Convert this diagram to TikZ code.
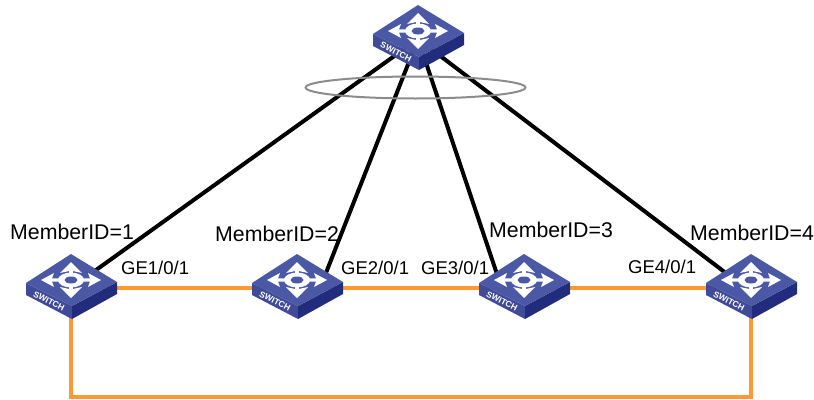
\documentclass[tikz,border=0pt]{standalone}
\usepackage{fontspec}
\setmainfont{Liberation Sans}
\definecolor{swtop}{HTML}{4A58A6}
\definecolor{swleft}{HTML}{3F4A98}
\definecolor{swright}{HTML}{222C7C}
\definecolor{ringorange}{HTML}{FF9933}
\tikzset{
  swnode/.style={inner sep=0pt,minimum width=91pt,minimum height=65pt},
  stacklink/.style={line width=4pt,black},
  ringlink/.style={line width=3.4pt,ringorange,line join=miter},
  memberlabel/.style={anchor=west,inner sep=0pt,font=\fontsize{21.3}{24}\selectfont},
  portlabel/.style={anchor=west,inner sep=0pt,font=\fontsize{18.5}{22}\selectfont},
  switchicon/.pic={
    %side faces
    \fill[swleft] (-45,-5) -- (1,18) -- (1,31) -- (-45,7) -- cycle;
    \fill[swright] (46,-6) -- (1,18) -- (1,31) -- (46,6) -- cycle;
    %top face
    \fill[swtop] (0,-34) -- (46,-6) -- (1,18) -- (-45,-5) -- cycle;
    %arrows of the icon
    \foreach \s in {1,-1}{
      \fill[white] (\s*10,-9.6) -- (\s*19,-9.6) -- (\s*17,-15) -- (\s*30,-8) -- (\s*17,-1) -- (\s*19,-6.4) -- (\s*10,-6.4) -- cycle;
      \fill[white] (-1.8,-8+\s*6) -- (-1.8,-8+\s*9) -- (-11,-8+\s*7) -- (0,-8+\s*18) -- (11,-8+\s*7) -- (1.8,-8+\s*9) -- (1.8,-8+\s*6) -- cycle;
    }
    %centre ring
    \fill[white] (0,-8) ellipse [x radius=13pt,y radius=7.5pt];
    \fill[swtop] (0,-8) ellipse [x radius=6.5pt,y radius=3.5pt];
    \node[rotate=-27,text=white,inner sep=0pt,font=\fontsize{8.5}{9}\selectfont\bfseries] at (-22,13) {SWITCH};
  }
}
\begin{document}
\begin{tikzpicture}[x=1pt,y=1pt,yscale=-1,xscale=1]
    \useasboundingbox (0,0) rectangle (814,399);
    %switches
    \node[swnode] (swroot) at (418,39) {};
    \node[swnode] (sw1) at (71,288) {};
    \node[swnode] (sw2) at (297,288) {};
    \node[swnode] (sw3) at (524,288) {};
    \node[swnode] (sw4) at (751,288) {};
    %free ends of the links
    \coordinate (up2) at (322,283);
    \coordinate (up3) at (500,283);
    \coordinate (up4) at (739,283);
    \coordinate (lowleft) at (71,397);
    \coordinate (lowright) at (751,397);
    %links to the upper switch
    \draw[stacklink] (swroot.center) -- (sw1.center);
    \draw[stacklink] (swroot.center) -- (up2);
    \draw[stacklink] (swroot.center) -- (up3);
    \draw[stacklink] (swroot.center) -- (up4);
    %ring
    \draw[ringlink] (sw1.center) -- (sw2.center);
    \draw[ringlink] (sw2.center) -- (sw3.center);
    \draw[ringlink] (sw3.center) -- (sw4.center);
    \draw[ringlink] (sw1.center) -- (lowleft) -- (lowright) -- (sw4.center);
    %Shape: Ellipse
    \draw[draw=black!45,line width=2pt] (415.5,87.5) ellipse [x radius=110pt,y radius=11pt];
    %icons
    \foreach \n in {swroot,sw1,sw2,sw3,sw4}{
      \pic[yscale=-1] at (\n.center) {switchicon};
    }
    % Text Node
    \node[memberlabel] (m1) at (10,232) {MemberID=1};
    \node[memberlabel] (m2) at (215,234) {MemberID=2};
    \node[memberlabel] (m3) at (489,230) {MemberID=3};
    \node[memberlabel] (m4) at (690,233) {MemberID=4};
    % Text Node
    \node[portlabel] (p1) at (121,268) {GE1/0/1};
    \node[portlabel] (p2) at (341,268) {GE2/0/1};
    \node[portlabel] (p3) at (421,268) {GE3/0/1};
    \node[portlabel] (p4) at (628,267) {GE4/0/1};
\end{tikzpicture}
\end{document}
